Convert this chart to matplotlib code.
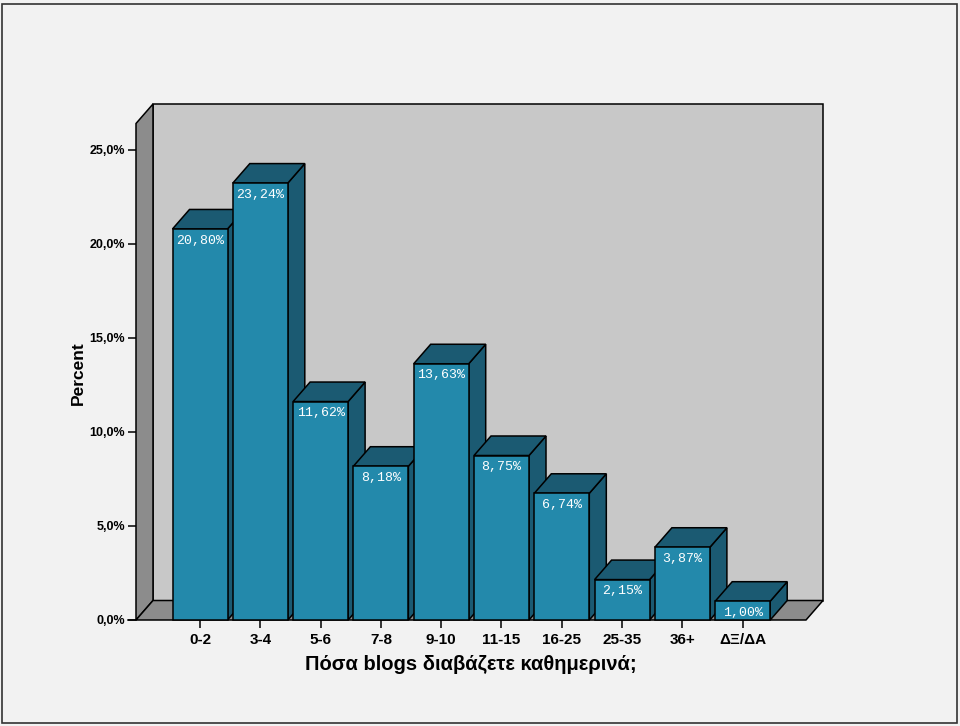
import matplotlib
matplotlib.use("Agg")
import matplotlib.pyplot as plt
from matplotlib.patches import Polygon, Rectangle

categories = ["0-2", "3-4", "5-6", "7-8", "9-10", "11-15", "16-25", "25-35", "36+", "ΔΞ/ΔΑ"]
values = [20.80, 23.24, 11.62, 8.18, 13.63, 8.75, 6.74, 2.15, 3.87, 1.00]
value_labels = ["20,80%", "23,24%", "11,62%", "8,18%", "13,63%", "8,75%", "6,74%", "2,15%", "3,87%", "1,00%"]
yticks = [0, 5, 10, 15, 20, 25]
ytick_labels = ["0,0%", "5,0%", "10,0%", "15,0%", "20,0%", "25,0%"]
xlabel = "Πόσα blogs διαβάζετε καθημερινά;"
ylabel = "Percent"

W, H = 960, 726
fig = plt.figure(figsize=(W / 100, H / 100), dpi=100)
fig.patch.set_facecolor("#F2F2F2")
fig.add_artist(Rectangle((2 / W, 3 / H), 955 / W, 719 / H, transform=fig.transFigure,
                         fill=False, edgecolor="#333333", linewidth=1.2))

# axes frame in pixels
left_px, right_px, bottom_px, top_px = 136, 806, 620, 104
ax = fig.add_axes([left_px / W, (H - bottom_px) / H, (right_px - left_px) / W, (bottom_px - top_px) / H])
ax.set_facecolor("none")
px_per_cat = 60.3
px_per_pct = 18.8
x0 = (left_px - 200) / px_per_cat
x1 = x0 + (right_px - left_px) / px_per_cat
ytop = (bottom_px - top_px) / px_per_pct
ax.set_xlim(x0, x1)
ax.set_ylim(0, ytop)

dx = 17 / px_per_cat
dy = 19.5 / px_per_pct
edge = "black"
lw = 1.1

# back wall
ax.add_patch(Polygon([(x0 + dx, dy), (x1 + dx, dy), (x1 + dx, ytop), (x0 + dx, ytop)],
                     closed=True, facecolor="#C8C8C8", edgecolor=edge, linewidth=lw, clip_on=False, zorder=1))
# left wall
ax.add_patch(Polygon([(x0, 0), (x0 + dx, dy), (x0 + dx, ytop), (x0, ytop - dy)],
                     closed=True, facecolor="#8C8C8C", edgecolor=edge, linewidth=lw, clip_on=False, zorder=1))
# floor
ax.add_patch(Polygon([(x0, 0), (x1, 0), (x1 + dx, dy), (x0 + dx, dy)],
                     closed=True, facecolor="#8C8C8C", edgecolor=edge, linewidth=lw, clip_on=False, zorder=1))

front_c = "#2389AB"
dark_c = "#1B5A72"
hw = 27.5 / px_per_cat
z = 2
for i, (v, lab) in enumerate(zip(values, value_labels)):
    xl, xr = i - hw, i + hw
    # side
    ax.add_patch(Polygon([(xr, 0), (xr + dx, dy), (xr + dx, v + dy), (xr, v)], closed=True,
                         facecolor=dark_c, edgecolor=edge, linewidth=lw, clip_on=False, zorder=z))
    # top
    ax.add_patch(Polygon([(xl, v), (xr, v), (xr + dx, v + dy), (xl + dx, v + dy)], closed=True,
                         facecolor=dark_c, edgecolor=edge, linewidth=lw, clip_on=False, zorder=z))
    # front
    ax.add_patch(Rectangle((xl, 0), xr - xl, v, facecolor=front_c, edgecolor=edge,
                           linewidth=lw, clip_on=False, zorder=z))
    ax.text(i, v - 0.3, lab, ha="center", va="top", color="white",
            family="Liberation Mono", fontsize=9.5, zorder=z + 0.5)
    z += 1

for s in ax.spines.values():
    s.set_visible(False)
ax.set_yticks(yticks)
ax.set_yticklabels(ytick_labels, fontweight="bold", fontsize=9, family="Liberation Sans")
ax.set_xticks(range(len(categories)))
ax.set_xticklabels(categories, fontweight="bold", fontsize=11, family="Liberation Sans")
ax.tick_params(axis="y", length=6, width=1.1, pad=2, color="black")
ax.tick_params(axis="x", length=6, width=1.1, pad=3, color="black")
ax.plot([x0 - 8 / px_per_cat, x0], [0, 0], color="black", lw=1.1, clip_on=False, zorder=0)

ax.set_xlabel(xlabel, fontsize=14.5, fontweight="bold", family="Liberation Sans", labelpad=4)
ax.set_ylabel(ylabel, fontsize=12.5, fontweight="bold", family="Liberation Sans", labelpad=14)
ax.xaxis.set_label_coords((471 - left_px) / (right_px - left_px), -(664 - bottom_px) / (bottom_px - top_px))
ax.yaxis.set_label_coords(-(136 - 78) / (right_px - left_px), (bottom_px - 373) / (bottom_px - top_px))
ax.xaxis.label.set_va("center")
ax.yaxis.label.set_va("center")

fig.savefig("out.png", dpi=100, facecolor=fig.get_facecolor())
